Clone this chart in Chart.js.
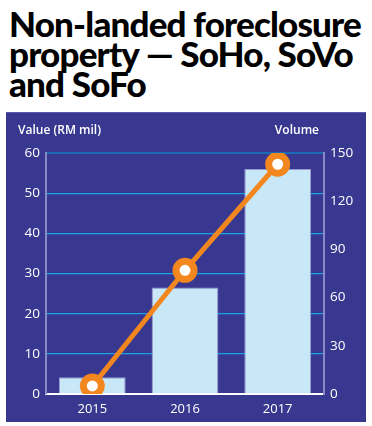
<!DOCTYPE html>
<html>
<head>
<meta charset="utf-8">
<script src="https://cdn.jsdelivr.net/npm/chart.js@4"></script>
<style>
  html, body { margin: 0; padding: 0; background: #fff; width: 372px; height: 426px; overflow: hidden; }
  #title { position: absolute; left: 9px; top: 8px; width: 372px; font-family: Lato, 'Liberation Sans', sans-serif; font-weight: 900; font-size: 35px; line-height: 30px; color: #000; white-space: nowrap; }
  #title span { display: block; }
  #rule { position: absolute; left: 6px; top: 112px; width: 360px; height: 2px; background: #5a5aa8; }
  #panel { position: absolute; left: 6px; top: 113px; width: 360px; height: 309px; background: #383890; }
</style>
</head>
<body>
<div id="title"><span id="t1">Non-landed foreclosure</span><span>property — SoHo, SoVo</span><span>and SoFo</span></div>
<div id="rule"></div>
<div id="panel"><canvas id="c" width="360" height="309"></canvas></div>
<script>
// === DATA ===
const years = ['2015', '2016', '2017'];
const valueRM = [4.2, 26.5, 56];       // RM mil, bars (left axis)
const volume = [5, 77, 143];           // units, line (right axis)
const leftTicks = [0, 10, 20, 30, 40, 50, 60];
const rightTicks = [0, 30, 60, 90, 120, 150];

const WHITE = '#ffffff';
const ORANGE = '#f2871f';
const LAVENDER = '#8a88c8';

// stretch/squeeze title so first line spans ~352px like the print version
(function fitTitle() {
    const t1 = document.getElementById('t1');
    const r = document.createRange(); r.selectNodeContents(t1);
    const w = r.getBoundingClientRect().width;
    const n = t1.textContent.length;
    document.getElementById('title').style.letterSpacing = ((352 - w) / n).toFixed(2) + 'px';
})();

// axis titles sit above the plot, horizontal
const axisTitles = {
    id: 'axisTitles',
    afterDraw(chart) {
        const c = chart.ctx;
        c.save();
        c.fillStyle = WHITE;
        c.font = '600 12px "Open Sans", sans-serif';
        c.textBaseline = 'middle';
        c.textAlign = 'left';
        c.fillText('Value (RM mil)', 12, 18);
        c.textAlign = 'right';
        c.fillText('Volume', 313, 18);
        c.restore();
    }
};

new Chart(document.getElementById('c').getContext('2d'), {
    data: {
        labels: years,
        datasets: [
            {
                type: 'line', data: volume, yAxisID: 'y1', order: 0,
                borderColor: ORANGE, borderWidth: 5,
                pointRadius: 9, pointBorderWidth: 7, pointBackgroundColor: WHITE, pointBorderColor: ORANGE
            },
            {
                type: 'bar', data: valueRM, yAxisID: 'y', order: 1,
                backgroundColor: '#c8e8f8', borderColor: '#9a98d0', borderWidth: 1,
                barPercentage: 0.72, categoryPercentage: 1
            }
        ]
    },
    options: {
        responsive: false, animation: false, devicePixelRatio: 1,
        layout: { padding: { top: 40, left: 0, right: 0, bottom: 0 } },
        plugins: { legend: { display: false }, tooltip: { enabled: false } },
        scales: {
            x: {
                grid: { display: false, drawTicks: false },
                border: { color: WHITE, width: 2 },
                ticks: { color: WHITE, padding: 7, font: { family: '"Open Sans", sans-serif', size: 13 } },
                afterFit: s => { s.height = 28; }
            },
            y: {
                position: 'left', min: 0, max: 60,
                afterBuildTicks: s => { s.ticks = leftTicks.map(v => ({ value: v })); },
                grid: {
                    drawTicks: false,
                    color: ctx => ctx.tick.value === 60 ? '#1b6cb6' : (ctx.tick.value === 0 ? 'rgba(0,0,0,0)' : '#18a2e4'),
                    lineWidth: ctx => ctx.tick.value === 60 ? 2 : 1.3
                },
                border: { color: LAVENDER, width: 2 },
                ticks: { color: WHITE, padding: 6, font: { family: '"Open Sans", sans-serif', size: 13.5 } },
                afterFit: s => { s.width = 40; }
            },
            y1: {
                position: 'right', min: 0, max: 150,
                afterBuildTicks: s => { s.ticks = rightTicks.map(v => ({ value: v })); },
                grid: { display: false, drawTicks: false },
                border: { color: LAVENDER, width: 2 },
                ticks: { color: WHITE, padding: 6, font: { family: '"Open Sans", sans-serif', size: 13.5 } },
                afterFit: s => { s.width = 42; }
            }
        }
    },
    plugins: [axisTitles]
});
</script>
</body>
</html>
